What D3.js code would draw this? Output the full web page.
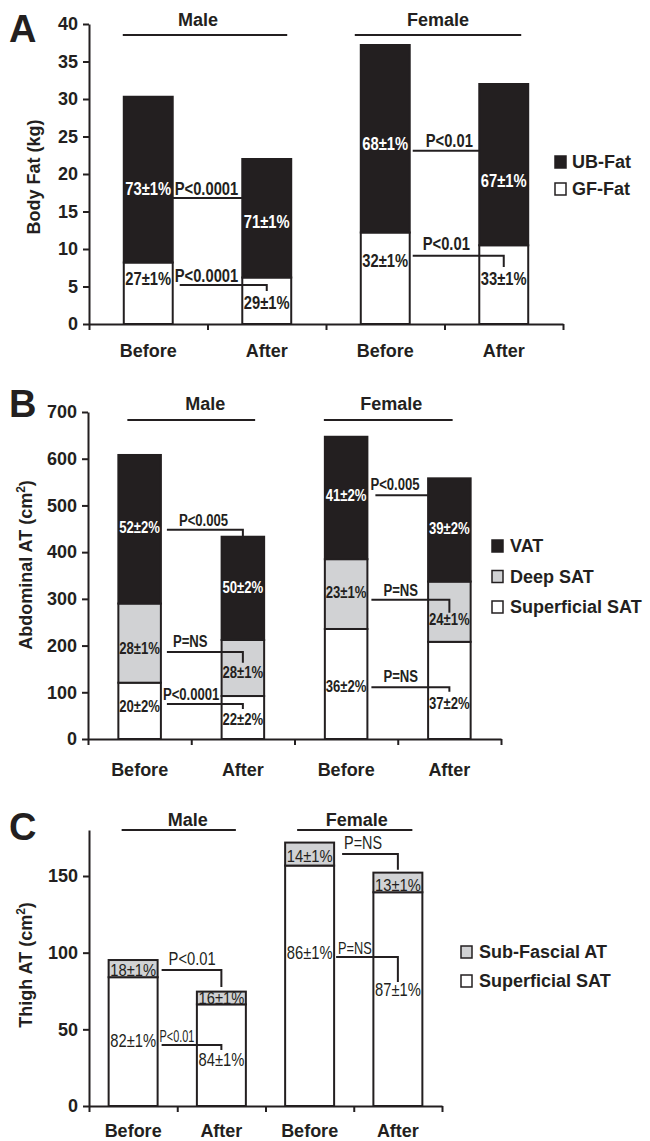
<!DOCTYPE html>
<html>
<head>
<meta charset="utf-8">
<script src="https://cdn.jsdelivr.net/npm/d3@7"></script>
<style>
  body { margin: 0; background: #fff; }
  text { font-family: "Liberation Sans", Arial, sans-serif; fill: #231f20; }
</style>
</head>
<body>
<div id="graphic"></div>
<script>
/** DATA */
const cats = ["Male Before", "Male After", "Female Before", "Female After"];
const timeLabels = ["Before", "After", "Before", "After"];
const groups = ["Male", "Female"];

// A - body fat (kg)
const fatKeys = ["GF-Fat", "UB-Fat"];
const gfFat = [8.2, 6.2, 12.2, 10.5];
const ubFat = [22.1, 15.8, 25.0, 21.5];
const gfFatPct = ["27±1%", "29±1%", "32±1%", "33±1%"];
const ubFatPct = ["73±1%", "71±1%", "68±1%", "67±1%"];
const gfFatP = ["P<0.0001", "P<0.01"];
const ubFatP = ["P<0.0001", "P<0.01"];
const fatTicks = [0, 5, 10, 15, 20, 25, 30, 35, 40];

// B - abdominal AT (cm2)
const abdKeys = ["Superficial SAT", "Deep SAT", "VAT"];
const supSat = [120.5, 92, 235.5, 208];
const deepSat = [169.5, 120, 149.5, 129];
const vat = [318, 221, 262, 221];
const supSatPct = ["20±2%", "22±2%", "36±2%", "37±2%"];
const deepSatPct = ["28±1%", "28±1%", "23±1%", "24±1%"];
const vatPct = ["52±2%", "50±2%", "41±2%", "39±2%"];
const supSatP = ["P<0.0001", "P=NS"];
const deepSatP = ["P=NS", "P=NS"];
const vatP = ["P<0.005", "P<0.005"];
const abdTicks = [0, 100, 200, 300, 400, 500, 600, 700];

// C - thigh AT (cm2)
const thighKeys = ["Superficial SAT", "Sub-Fascial AT"];
const supThigh = [84, 66.3, 156.8, 139.4];
const subFascial = [11.2, 8.3, 15.0, 12.8];
const supThighPct = ["82±1%", "84±1%", "86±1%", "87±1%"];
const subFascialPct = ["18±1%", "16±1%", "14±1%", "13±1%"];
const supThighP = ["P<0.01", "P=NS"];
const subFascialP = ["P<0.01", "P=NS"];
const thighTicks = [0, 50, 100, 150];

/** LAYOUT */
const ink = "#231f20", grey = "#d1d2d4";

const panels = [
  {
    letter: "A", letterY: 42,
    yLabel: ["Body Fat (kg)", "", ""], yLabelX: 34, yLabelY: 177,
    keys: fatKeys, series: [gfFat, ubFat], colors: ["#fff", ink],
    pct: [gfFatPct, ubFatPct], pvals: [gfFatP, ubFatP],
    yDomain: [0, 40], yTicks: fatTicks, xRange: [89, 563], yRange: [324, 24], pad: 0.587,
    xLabelPad: 20,
    pctFont: [{ size: 18, weight: "bold", sx: 0.82 }, { size: 18, weight: "bold", sx: 0.82 }],
    pFont: { size: 18, weight: "bold", sx: 0.82 },
    pctY: [[6.1, 2.9, 8.4, 6.0], [18.1, 13.7, 24.1, 19.1]],
    brackets: [
      [{ line: 5.2, drop: 4.4, text: 6.5, dx: 2, lx: 7 }, { line: 9.1, drop: 7.6, text: 10.7, dx: 13, lx: 3 }],
      [{ line: 16.8, drop: null, text: 18.1, dx: 2, lx: 0 }, { line: 23.1, drop: null, text: 24.4, dx: 16, lx: 3 }]
    ],
    groupLine: 35, groupText: 26,
    groupLayout: [{ l: -1, r: -4, dx: -7 }, { l: -6, r: -7, dx: 0 }],
    legend: { x: 555, tx: 572, y0: 162, dy: 27 }
  },
  {
    letter: "B", letterY: 417,
    yLabel: ["Abdominal AT (cm", "2", ")"], yLabelX: 26, yLabelY: 565,
    keys: abdKeys, series: [supSat, deepSat, vat], colors: ["#fff", grey, ink],
    pct: [supSatPct, deepSatPct, vatPct], pvals: [supSatP, deepSatP, vatP],
    yDomain: [0, 700], yTicks: abdTicks, xRange: [88, 501], yRange: [739, 412], pad: 0.588,
    xLabelPad: 24,
    pctFont: [{ size: 16, weight: "bold", sx: 0.82 }, { size: 16, weight: "bold", sx: 0.82 }, { size: 16, weight: "bold", sx: 0.82 }],
    pFont: { size: 16, weight: "bold", sx: 0.82 },
    pctY: [[69, 43, 113, 77], [195, 143, 313, 257], [454, 325, 522, 450]],
    brackets: [
      [{ line: 75, drop: 64, text: 96, dx: 2, lx: 6 }, { line: 111, drop: 101, text: 133, dx: 16, lx: 4 }],
      [{ line: 186, drop: 163, text: 208, dx: 12, lx: 6 }, { line: 298, drop: 270, text: 319, dx: 16, lx: 4 }],
      [{ line: 448, drop: 433, text: 469, dx: 18, lx: 6 }, { line: 522, drop: null, text: 544, dx: 3, lx: 8 }]
    ],
    groupLine: 420, groupText: 410,
    groupLayout: [{ l: 9, r: -9, dx: 14 }, { l: -1, r: -18, dx: 3 }],
    legend: { x: 492, tx: 510, y0: 546, dy: 30.5 }
  },
  {
    letter: "C", letterY: 840,
    yLabel: ["Thigh AT (cm", "2", ")"], yLabelX: 26, yLabelY: 965,
    keys: thighKeys, series: [supThigh, subFascial], colors: ["#fff", grey],
    pct: [supThighPct, subFascialPct], pvals: [supThighP, subFascialP],
    yDomain: [0, 180], yTicks: thighTicks, xRange: [89, 442], yRange: [1106, 830], pad: 0.445,
    xLabelPad: 18,
    pctFont: [{ size: 18, weight: "normal", sx: 0.82 }, { size: 16, weight: "normal", sx: 0.92 }],
    pFont: { size: 18, weight: "normal", sx: 0.82 },
    pctY: [[42.4, 30, 99.8, 75.7], [88.7, 70.4, 163, 144]],
    brackets: [
      [{ line: 39.8, drop: 36.5, text: 45.7, dx: 2, lx: 4, size: 16, sx: 0.68 }, { line: 97.2, drop: 80.9, text: 103, dx: 4, lx: 2, size: 17, sx: 0.75 }],
      [{ line: 88.7, drop: 77.6, text: 95.9, dx: 11, lx: 4 }, { line: 164.4, drop: 154, text: 171.6, dx: 10, lx: 8, sx: 0.8 }]
    ],
    groupLine: 830, groupText: 826,
    groupLayout: [{ l: 13, r: -10, dx: 9 }, { l: 12, r: -10, dx: 2 }],
    legend: { x: 461, tx: 479, y0: 952, dy: 29 }
  }
];

const svg = d3.select("#graphic").append("svg")
  .attr("width", 650)
  .attr("height", 1141);

function drawPanel(p) {
  const g = svg.append("g");

  const x = d3.scaleBand()
    .domain(cats)
    .range(p.xRange)
    .paddingInner(p.pad)
    .paddingOuter(p.pad / 2);
  const y = d3.scaleLinear().domain(p.yDomain).range(p.yRange);
  const bw = x.bandwidth();

  // stacked bars
  const rows = cats.map((c, i) => {
    const r = { cat: c };
    p.keys.forEach((k, j) => r[k] = p.series[j][i]);
    return r;
  });
  const stacked = d3.stack().keys(p.keys)(rows);

  g.selectAll(".layer")
    .data(stacked)
    .join("g")
    .attr("fill", (d, i) => p.colors[i])
    .selectAll("rect")
    .data(d => d)
    .join("rect")
    .attr("x", d => x(d.data.cat))
    .attr("width", bw)
    .attr("y", d => y(d[1]))
    .attr("height", d => y(d[0]) - y(d[1]))
    .attr("stroke", ink)
    .attr("stroke-width", 2);

  // y axis
  const gy = g.append("g")
    .attr("transform", `translate(${p.xRange[0]},0)`)
    .call(d3.axisLeft(y).tickValues(p.yTicks).tickSize(6).tickSizeOuter(0).tickPadding(5))
    .attr("font-family", null)
    .attr("font-size", 18)
    .attr("font-weight", "bold");
  gy.select(".domain").attr("stroke", ink).attr("stroke-width", 2);
  gy.selectAll(".tick line").attr("stroke", ink).attr("stroke-width", 2);
  gy.selectAll(".tick text").attr("fill", ink);

  // x axis: ticks between bands
  const xb = d3.scaleLinear().domain([0, cats.length]).range(p.xRange);
  const gx = g.append("g")
    .attr("transform", `translate(0,${y(0)})`)
    .call(d3.axisBottom(xb).ticks(cats.length).tickSize(6).tickSizeOuter(0).tickFormat(""));
  gx.select(".domain").attr("stroke", ink).attr("stroke-width", 2);
  gx.selectAll(".tick line").attr("stroke", ink).attr("stroke-width", 2);

  const gl = g.append("g")
    .attr("transform", `translate(0,${y(0)})`)
    .call(d3.axisBottom(x).tickSize(0).tickPadding(p.xLabelPad).tickFormat((d, i) => timeLabels[i]))
    .attr("font-family", null)
    .attr("font-size", 18)
    .attr("font-weight", "bold");
  gl.select(".domain").remove();
  gl.selectAll(".tick text").attr("fill", ink);

  // percentage labels inside segments
  p.pct.forEach((labels, j) => {
    const f = p.pctFont[j];
    g.append("g").selectAll("text")
      .data(labels)
      .join("text")
      .attr("transform", (d, i) => `translate(${x(cats[i]) + bw / 2},${y(p.pctY[j][i])}) scale(${f.sx},1)`)
      .attr("text-anchor", "middle")
      .attr("dy", "0.35em")
      .attr("font-size", f.size)
      .attr("font-weight", f.weight)
      .style("fill", p.colors[j] === ink ? "#fff" : ink)
      .text(d => d);
  });

  // p-value brackets
  p.brackets.forEach((pair, j) => {
    pair.forEach((b, gi) => {
      const before = cats[gi * 2], after = cats[gi * 2 + 1];
      const x0 = x(before) + bw + b.lx;
      const x1 = b.drop === null ? x(after) : x(after) + bw / 2;
      const pts = [[x0, y(b.line)], [x1, y(b.line)]];
      if (b.drop !== null) pts.push([x1, y(b.drop)]);
      g.append("path")
        .attr("d", d3.line()(pts))
        .attr("fill", "none")
        .attr("stroke", ink)
        .attr("stroke-width", 2);
      g.append("text")
        .attr("transform", `translate(${x(before) + bw + b.dx},${y(b.text)}) scale(${b.sx || p.pFont.sx},1)`)
        .attr("dy", "0.35em")
        .attr("font-size", b.size || p.pFont.size)
        .attr("font-weight", p.pFont.weight)
        .text(p.pvals[j][gi]);
    });
  });

  // group headers
  groups.forEach((name, gi) => {
    const lay = p.groupLayout[gi];
    const gx0 = x(cats[gi * 2]) + lay.l;
    const gx1 = x(cats[gi * 2 + 1]) + bw + lay.r;
    g.append("line")
      .attr("x1", gx0).attr("x2", gx1)
      .attr("y1", p.groupLine).attr("y2", p.groupLine)
      .attr("stroke", ink).attr("stroke-width", 2);
    g.append("text")
      .attr("x", (gx0 + gx1) / 2 + lay.dx)
      .attr("y", p.groupText)
      .attr("text-anchor", "middle")
      .attr("font-size", 18)
      .attr("font-weight", "bold")
      .text(name);
  });

  // legend (top series first)
  const order = d3.range(p.keys.length).reverse();
  const lg = g.append("g");
  order.forEach((j, k) => {
    const cy = p.legend.y0 + k * p.legend.dy;
    lg.append("rect")
      .attr("x", p.legend.x).attr("y", cy - 6)
      .attr("width", 11).attr("height", 12)
      .attr("fill", p.colors[j])
      .attr("stroke", ink).attr("stroke-width", 1.5);
    lg.append("text")
      .attr("x", p.legend.tx).attr("y", cy)
      .attr("dy", "0.35em")
      .attr("font-size", 18)
      .attr("font-weight", "bold")
      .text(p.keys[j]);
  });

  // y axis title
  const yt = g.append("text")
    .attr("transform", `translate(${p.yLabelX},${p.yLabelY}) rotate(-90)`)
    .attr("text-anchor", "middle")
    .attr("dy", "0.35em")
    .attr("font-size", 18)
    .attr("font-weight", "bold");
  yt.append("tspan").text(p.yLabel[0]);
  if (p.yLabel[1]) {
    yt.append("tspan").attr("dy", -7).attr("font-size", 12).text(p.yLabel[1]);
    yt.append("tspan").attr("dy", 7).text(p.yLabel[2]);
  }

  // panel letter
  g.append("text")
    .attr("x", 9)
    .attr("y", p.letterY)
    .attr("font-size", 38)
    .attr("font-weight", "bold")
    .text(p.letter);
}

panels.forEach(drawPanel);
</script>
</body>
</html>
